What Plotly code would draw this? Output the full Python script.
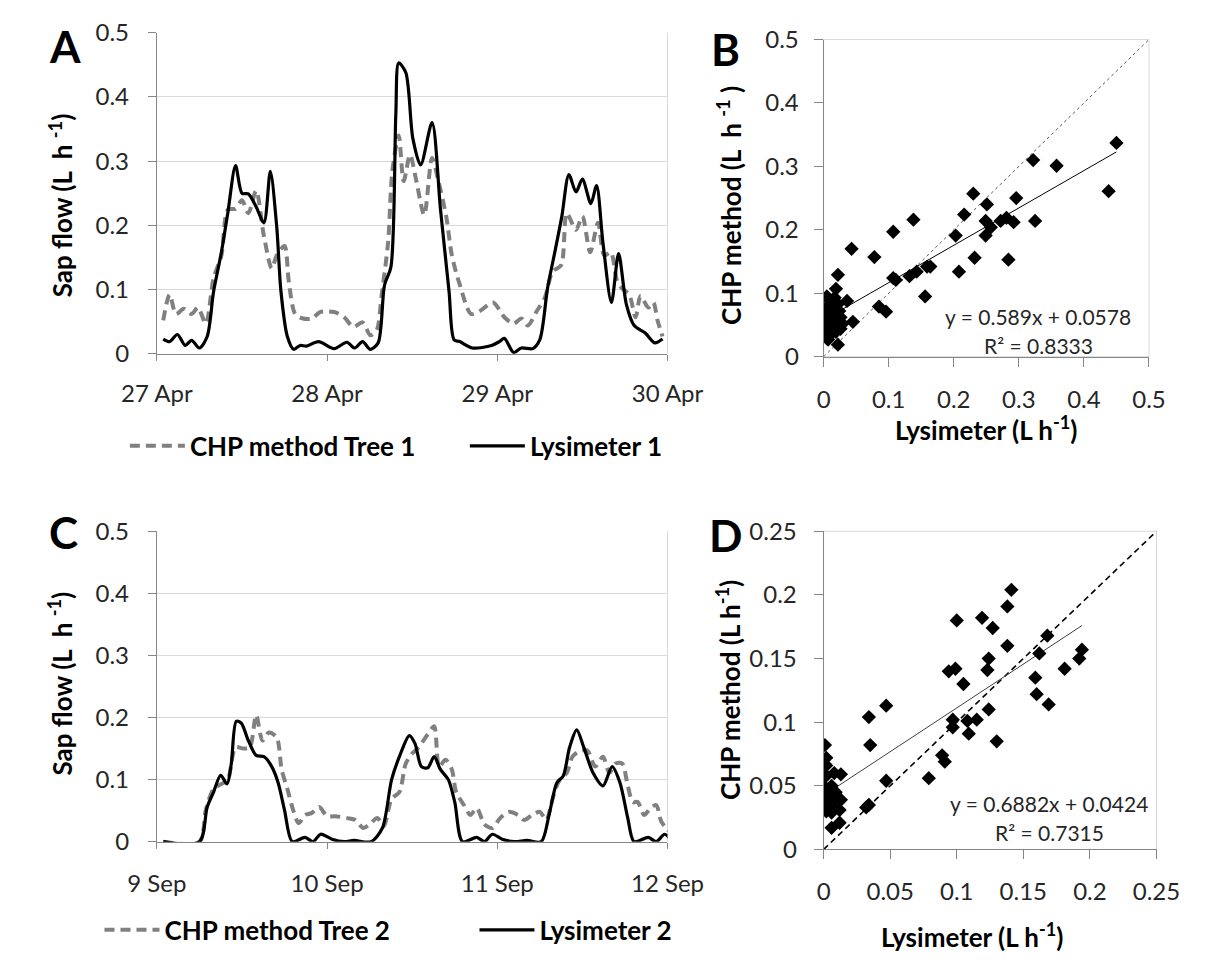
import plotly.graph_objects as go

# ---------------- Data ----------------
# Panel A : 27-30 Apr, hours since 27 Apr 00:00
A_TICKS = ["27 Apr", "28 Apr", "29 Apr", "30 Apr"]
A_chp_h = [0.9, 1.8, 2.7, 3.8, 4.9, 5.8, 6.9, 8.0, 9.1, 10.0, 11.1, 12.0, 12.9, 14.0, 15.1, 16.2, 16.9, 18.0,
           18.6, 19.5, 20.6, 21.9, 23.0, 25.0, 26.4, 27.7, 29.0, 30.1, 31.0, 31.7, 32.6, 33.2, 34.1, 34.8, 35.7,
           36.5, 37.7, 38.8, 39.7, 40.8, 41.6, 42.7, 44.3, 45.6, 47.4, 49.0, 50.3, 51.4, 52.3, 53.6, 54.7, 55.8,
           57.0, 57.8, 59.1, 60.0, 61.1, 62.2, 63.1, 64.0, 64.9, 65.5, 66.6, 67.5, 68.2, 69.3, 70.0, 70.6, 71.3]
A_chp = [0.052, 0.092, 0.062, 0.070, 0.062, 0.072, 0.047, 0.118, 0.153, 0.224, 0.226, 0.239, 0.219, 0.254, 0.183,
         0.133, 0.153, 0.168, 0.113, 0.062, 0.055, 0.055, 0.065, 0.065, 0.057, 0.042, 0.049, 0.029, 0.037, 0.092,
         0.173, 0.284, 0.340, 0.269, 0.310, 0.274, 0.216, 0.305, 0.269, 0.214, 0.153, 0.108, 0.062, 0.067, 0.080,
         0.057, 0.047, 0.055, 0.044, 0.067, 0.087, 0.128, 0.138, 0.219, 0.193, 0.214, 0.158, 0.204, 0.153, 0.158,
         0.113, 0.103, 0.092, 0.057, 0.090, 0.072, 0.080, 0.052, 0.027]
A_lys_h = [0.9, 1.8, 2.9, 4.0, 4.9, 6.0, 7.1, 8.0, 9.1, 10.0, 11.1, 12.0, 12.9, 14.0, 15.1, 16.0, 16.9, 17.5,
           18.4, 19.3, 20.2, 21.1, 22.8, 25.0, 26.8, 27.9, 29.0, 30.1, 31.2, 32.1, 33.0, 33.7, 34.1, 35.1, 36.1,
           37.2, 38.8, 40.0, 41.2, 41.9, 42.7, 44.5, 47.2, 48.3, 49.0, 50.3, 51.4, 53.0, 54.0, 55.1, 56.2, 57.1,
           58.1, 59.1, 60.0, 61.2, 62.0, 62.9, 64.1, 65.1, 66.2, 67.3, 68.9, 70.2, 71.3]
A_lys = [0.023, 0.019, 0.030, 0.013, 0.021, 0.009, 0.027, 0.097, 0.158, 0.219, 0.293, 0.250, 0.249, 0.229, 0.204,
         0.284, 0.198, 0.097, 0.027, 0.007, 0.013, 0.012, 0.019, 0.008, 0.018, 0.009, 0.019, 0.007, 0.017, 0.107,
         0.135, 0.375, 0.453, 0.438, 0.335, 0.294, 0.360, 0.224, 0.097, 0.022, 0.019, 0.009, 0.013, 0.019, 0.024,
         0.002, 0.009, 0.008, 0.022, 0.103, 0.163, 0.214, 0.279, 0.252, 0.272, 0.234, 0.262, 0.173, 0.080, 0.156,
         0.077, 0.044, 0.032, 0.017, 0.023]

# Panel C : 9-12 Sep, hours since 9 Sep 00:00
C_TICKS = ["9 Sep", "10 Sep", "11 Sep", "12 Sep"]
C_chp_h = [0.9, 6.0, 6.9, 8.0, 9.1, 10.0, 11.1, 12.2, 13.1, 14.0, 14.9, 15.8, 16.9, 17.6, 18.4, 19.3, 20.0, 20.9,
           21.8, 22.9, 24.0, 25.1, 26.9, 28.0, 29.1, 30.0, 31.1, 32.0, 33.1, 34.2, 35.1, 36.0, 36.9, 38.2, 39.1,
           39.8, 40.7, 41.6, 42.2, 43.3, 44.2, 45.1, 46.2, 47.3, 48.4, 49.6, 50.9, 51.8, 52.9, 54.0, 54.9, 55.8,
           56.7, 57.8, 58.6, 59.5, 60.7, 61.8, 62.9, 63.8, 64.7, 65.6, 66.4, 67.1, 67.8, 68.7, 69.6, 70.4, 71.1,
           71.8, 72.4]
C_chp = [0.0, 0.0, 0.051, 0.085, 0.093, 0.100, 0.152, 0.150, 0.152, 0.204, 0.163, 0.176, 0.168, 0.116, 0.085, 0.048,
         0.030, 0.043, 0.046, 0.056, 0.041, 0.041, 0.038, 0.035, 0.022, 0.028, 0.038, 0.025, 0.069, 0.080, 0.126,
         0.142, 0.152, 0.173, 0.186, 0.121, 0.132, 0.116, 0.080, 0.059, 0.043, 0.054, 0.028, 0.022, 0.038, 0.048,
         0.043, 0.035, 0.043, 0.048, 0.035, 0.069, 0.098, 0.111, 0.137, 0.145, 0.147, 0.121, 0.137, 0.111, 0.126,
         0.126, 0.090, 0.064, 0.064, 0.043, 0.054, 0.059, 0.033, 0.022, 0.015]
C_lys_h = [0.9, 6.0, 7.1, 8.0, 9.0, 9.9, 10.5, 11.2, 11.9, 12.9, 14.0, 15.1, 16.2, 17.1, 18.0, 19.1, 20.9, 22.0,
           23.1, 24.7, 26.4, 27.8, 30.2, 31.8, 33.1, 34.2, 35.6, 36.4, 37.3, 38.2, 39.1, 40.0, 41.1, 42.0, 43.1,
           45.1, 46.2, 47.3, 48.7, 50.4, 52.2, 54.2, 55.3, 56.4, 57.3, 58.2, 59.2, 60.2, 61.5, 62.9, 64.2, 65.3,
           66.4, 67.3, 69.3, 70.4, 71.6, 72.4]
C_lys = [0.0, 0.0, 0.056, 0.080, 0.107, 0.093, 0.126, 0.194, 0.191, 0.163, 0.139, 0.137, 0.121, 0.095, 0.051, 0.0,
         0.007, 0.0, 0.012, 0.004, 0.0, 0.002, 0.0, 0.022, 0.100, 0.137, 0.171, 0.158, 0.121, 0.119, 0.137, 0.116,
         0.100, 0.064, 0.0, 0.007, 0.0, 0.012, 0.004, 0.0, 0.002, 0.0, 0.043, 0.095, 0.106, 0.152, 0.180, 0.152,
         0.111, 0.090, 0.121, 0.095, 0.038, 0.0, 0.007, 0.0, 0.012, 0.004]

# Panel B : scatter, lysimeter vs CHP (Tree 1)
B_lys = [0.450, 0.438, 0.358, 0.322, 0.325, 0.296, 0.292, 0.281, 0.272, 0.284, 0.257, 0.249, 0.251, 0.249, 0.230,
         0.216, 0.203, 0.208, 0.232, 0.164, 0.159, 0.156, 0.138, 0.143, 0.132, 0.107, 0.107, 0.111, 0.078, 0.085,
         0.096, 0.043, 0.045, 0.036, 0.022, 0.019, 0.022, 0.005, 0.010, 0.017, 0.022, 0.005, 0.012, 0.024, 0.002,
         0.010, 0.017, 0.026, 0.000, 0.007, 0.014, 0.022, 0.029, 0.005, 0.012, 0.019, 0.026, 0.007, 0.014, 0.010,
         0.017, 0.022]
B_chp = [0.337, 0.261, 0.301, 0.310, 0.214, 0.250, 0.212, 0.219, 0.214, 0.153, 0.204, 0.214, 0.240, 0.191, 0.257,
         0.224, 0.191, 0.134, 0.156, 0.142, 0.142, 0.095, 0.216, 0.134, 0.127, 0.197, 0.124, 0.121, 0.157, 0.079,
         0.071, 0.170, 0.055, 0.088, 0.129, 0.107, 0.019, 0.095, 0.088, 0.093, 0.083, 0.078, 0.075, 0.072, 0.062,
         0.062, 0.065, 0.062, 0.044, 0.052, 0.055, 0.049, 0.052, 0.029, 0.037, 0.039, 0.044, 0.027, 0.047, 0.057,
         0.078, 0.057]
B_SLOPE, B_INTERCEPT, B_R2 = 0.589, 0.0578, 0.8333

# Panel D : scatter, lysimeter vs CHP (Tree 2)
D_lys = [0.141, 0.138, 0.119, 0.100, 0.127, 0.168, 0.138, 0.194, 0.192, 0.124, 0.162, 0.099, 0.094, 0.123, 0.181,
         0.159, 0.105, 0.160, 0.169, 0.047, 0.034, 0.124, 0.097, 0.097, 0.115, 0.108, 0.109, 0.130, 0.035, 0.089,
         0.091, 0.079, 0.047, 0.034, 0.032, 0.001, 0.002, 0.002, 0.002, 0.001, 0.004, 0.006, 0.008, 0.013, 0.001,
         0.005, 0.009, 0.013, 0.002, 0.007, 0.012, 0.002, 0.006, 0.006, 0.012, 0.004, 0.009]
D_chp = [0.204, 0.191, 0.182, 0.180, 0.174, 0.168, 0.160, 0.157, 0.150, 0.150, 0.154, 0.142, 0.140, 0.141, 0.142,
         0.135, 0.130, 0.122, 0.114, 0.113, 0.104, 0.110, 0.102, 0.096, 0.102, 0.101, 0.091, 0.085, 0.082, 0.074,
         0.069, 0.056, 0.054, 0.035, 0.033, 0.082, 0.072, 0.066, 0.058, 0.049, 0.045, 0.050, 0.060, 0.059, 0.041,
         0.039, 0.040, 0.039, 0.035, 0.034, 0.031, 0.030, 0.029, 0.017, 0.021, 0.035, 0.045]
D_SLOPE, D_INTERCEPT, D_R2 = 0.6882, 0.0424, 0.7315

# ---------------- Styling ----------------
W, H = 1225, 966
OFF = 8  # page body margin: the figure is drawn 8 px right and down in the window
FONT = "Lato"
TXT = "#262626"
AXC = "#868686"
GRID = "#d9d9d9"
GRAY = "#808080"


def px_x(p):
    return (p - OFF) / W


def px_y(p):
    return 1 - (p - OFF) / H


dom = {
    "A": ([px_x(128), px_x(671)], [px_y(348), px_y(17)]),
    "B": ([px_x(837), px_x(1183)], [px_y(351), px_y(24)]),
    "C": ([px_x(128), px_x(671)], [px_y(851), px_y(531)]),
    "D": ([px_x(837), px_x(1191)], [px_y(859), px_y(531)]),
}

fig = go.Figure()

# time series A
fig.add_trace(go.Scatter(x=A_chp_h, y=A_chp, mode="lines", name="CHP method Tree 1",
                         line=dict(color=GRAY, width=4, dash="10px,6px", shape="spline", smoothing=0.8),
                         xaxis="x", yaxis="y", legend="legend"))
fig.add_trace(go.Scatter(x=A_lys_h, y=A_lys, mode="lines", name="Lysimeter 1",
                         line=dict(color="black", width=3.2, shape="spline", smoothing=0.8),
                         xaxis="x", yaxis="y", legend="legend"))
# time series C
fig.add_trace(go.Scatter(x=C_chp_h, y=C_chp, mode="lines", name="CHP method Tree 2",
                         line=dict(color=GRAY, width=4, dash="10px,6px", shape="spline", smoothing=0.8),
                         xaxis="x3", yaxis="y3", legend="legend2"))
fig.add_trace(go.Scatter(x=C_lys_h, y=C_lys, mode="lines", name="Lysimeter 2",
                         line=dict(color="black", width=3.2, shape="spline", smoothing=0.8),
                         xaxis="x3", yaxis="y3", legend="legend2"))

# scatter B
fig.add_trace(go.Scatter(x=[0, 0.5], y=[0, 0.5], mode="lines", showlegend=False,
                         line=dict(color="#595959", width=1, dash="3px,3px"), xaxis="x2", yaxis="y2"))
bx = [min(B_lys), max(B_lys)]
fig.add_trace(go.Scatter(x=bx, y=[B_SLOPE * v + B_INTERCEPT for v in bx], mode="lines", showlegend=False,
                         line=dict(color="black", width=1), xaxis="x2", yaxis="y2"))
fig.add_trace(go.Scatter(x=B_lys, y=B_chp, mode="markers", showlegend=False,
                         marker=dict(symbol="diamond", size=11, color="black"), xaxis="x2", yaxis="y2"))

# scatter D
fig.add_trace(go.Scatter(x=[0, 0.25], y=[0, 0.25], mode="lines", showlegend=False,
                         line=dict(color="black", width=1.6, dash="6px,4px"), xaxis="x4", yaxis="y4"))
dx = [min(D_lys), max(D_lys)]
fig.add_trace(go.Scatter(x=dx, y=[D_SLOPE * v + D_INTERCEPT for v in dx], mode="lines", showlegend=False,
                         line=dict(color="#404040", width=1), xaxis="x4", yaxis="y4"))
fig.add_trace(go.Scatter(x=D_lys, y=D_chp, mode="markers", showlegend=False,
                         marker=dict(symbol="diamond", size=11, color="black"), xaxis="x4", yaxis="y4"))

tickfont = dict(family=FONT, size=24, color=TXT)


def xaxis_ts(domain, anchor, ticks, standoff):
    return dict(domain=domain, anchor=anchor, range=[0, 72], tickvals=[0, 24, 48, 72], ticktext=ticks,
                showline=True, linecolor=AXC, linewidth=1, ticks="outside", ticklen=6, tickcolor=AXC,
                showgrid=False, zeroline=False, tickfont=tickfont, ticklabelstandoff=standoff)


def yaxis_ts(domain, anchor):
    vals = [0, 0.1, 0.2, 0.3, 0.4, 0.5]
    return dict(domain=domain, anchor=anchor, range=[0, 0.5], tickvals=vals,
                ticktext=["0", "0.1", "0.2", "0.3", "0.4", "0.5"],
                showline=True, linecolor=AXC, linewidth=1, ticks="outside", ticklen=8, tickcolor=AXC,
                showgrid=True, gridcolor=GRID, gridwidth=1, zeroline=False, tickfont=tickfont,
                ticklabelstandoff=14)


def axis_sc(domain, anchor, rng, vals, labels, standoff):
    return dict(domain=domain, anchor=anchor, range=rng, tickvals=vals, ticktext=labels,
                showline=True, linecolor=AXC, linewidth=1, ticks="outside", ticklen=9, tickcolor=AXC,
                showgrid=False, zeroline=False, tickfont=tickfont, ticklabelstandoff=standoff)


b_vals = [0, 0.1, 0.2, 0.3, 0.4, 0.5]
b_lab = ["0", "0.1", "0.2", "0.3", "0.4", "0.5"]
d_vals = [0, 0.05, 0.1, 0.15, 0.2, 0.25]
d_lab = ["0", "0.05", "0.1", "0.15", "0.2", "0.25"]

legend_font = dict(family=FONT, size=26, color="black", weight="bold")
fig.update_layout(
    width=W, height=H, margin=dict(l=0, r=0, t=0, b=0),
    paper_bgcolor="white", plot_bgcolor="white",
    xaxis=xaxis_ts(dom["A"][0], "y", A_TICKS, 12),
    yaxis=yaxis_ts(dom["A"][1], "x"),
    xaxis3=xaxis_ts(dom["C"][0], "y3", C_TICKS, 15),
    yaxis3=yaxis_ts(dom["C"][1], "x3"),
    xaxis2=axis_sc(dom["B"][0], "y2", [0, 0.5], b_vals, b_lab, 12),
    yaxis2=axis_sc(dom["B"][1], "x2", [0, 0.5], b_vals, b_lab, 10),
    xaxis4=axis_sc(dom["D"][0], "y4", [0, 0.25], d_vals, d_lab, 12),
    yaxis4=axis_sc(dom["D"][1], "x4", [0, 0.25], d_vals, d_lab, 12),
    legend=dict(orientation="h", x=px_x(94), y=px_y(443), xanchor="left", yanchor="middle",
                font=legend_font, entrywidth=270, entrywidthmode="pixels",
                bgcolor="rgba(0,0,0,0)", itemwidth=55),
    legend2=dict(orientation="h", x=px_x(67), y=px_y(942), xanchor="left", yanchor="middle",
                 font=legend_font, entrywidth=305, entrywidthmode="pixels",
                 bgcolor="rgba(0,0,0,0)", itemwidth=55),
    showlegend=True,
)

shapes = []
for xr, yr in [("x", "y"), ("x3", "y3")]:
    shapes.append(dict(type="line", xref=f"{xr} domain", yref=f"{yr} domain", x0=1, x1=1, y0=0, y1=1,
                       line=dict(color=GRID, width=1), layer="below"))
for xr, yr in [("x2", "y2"), ("x4", "y4")]:
    shapes.append(dict(type="rect", xref=f"{xr} domain", yref=f"{yr} domain", x0=0, x1=1, y0=0, y1=1,
                       line=dict(color=GRID, width=1), layer="below"))
fig.update_layout(shapes=shapes)

ann = []
title_font = dict(family=FONT, size=26, color="black", weight="bold")
letter_font = dict(family=FONT, size=44, color="black", weight="bold")
for letter, x, y in [("A", 30, 31), ("B", 733, 34), ("C", 29, 532), ("D", 733, 535)]:
    ann.append(dict(text=letter, x=px_x(x), y=px_y(y), xref="paper", yref="paper", showarrow=False,
                    xanchor="center", yanchor="middle", font=letter_font))
for text, x, y in [("Sap flow (L  h <sup>-1</sup>)", 26, 195),
                   ("Sap flow (L  h <sup>-1</sup>)", 26, 688),
                   ("CHP method (L  h <sup>-1</sup> )", 737, 195),
                   ("CHP method (L h<sup>-1</sup>)", 736, 695)]:
    ann.append(dict(text=text, x=px_x(x), y=px_y(y), xref="paper", yref="paper", showarrow=False,
                    textangle=-90, xanchor="center", yanchor="middle", font=title_font))
for text, x, y in [("Lysimeter (L h<sup>-1</sup>)", 1010, 425), ("Lysimeter (L h<sup>-1</sup>)", 995, 948)]:
    ann.append(dict(text=text, x=px_x(x), y=px_y(y), xref="paper", yref="paper", showarrow=False,
                    xanchor="center", yanchor="middle", font=title_font))
eq_font = dict(family=FONT, size=21, color=TXT)
for text, x, y in [(f"y = {B_SLOPE}x + {B_INTERCEPT}", 1065, 310), (f"R² = {B_R2}", 1065, 339),
                   (f"y = {D_SLOPE}x + {D_INTERCEPT}", 1077, 812), (f"R² = {D_R2}", 1077, 842)]:
    ann.append(dict(text=text, x=px_x(x), y=px_y(y), xref="paper", yref="paper", showarrow=False,
                    xanchor="center", yanchor="middle", font=eq_font))
fig.update_layout(annotations=ann)

fig.write_html("out.html")
